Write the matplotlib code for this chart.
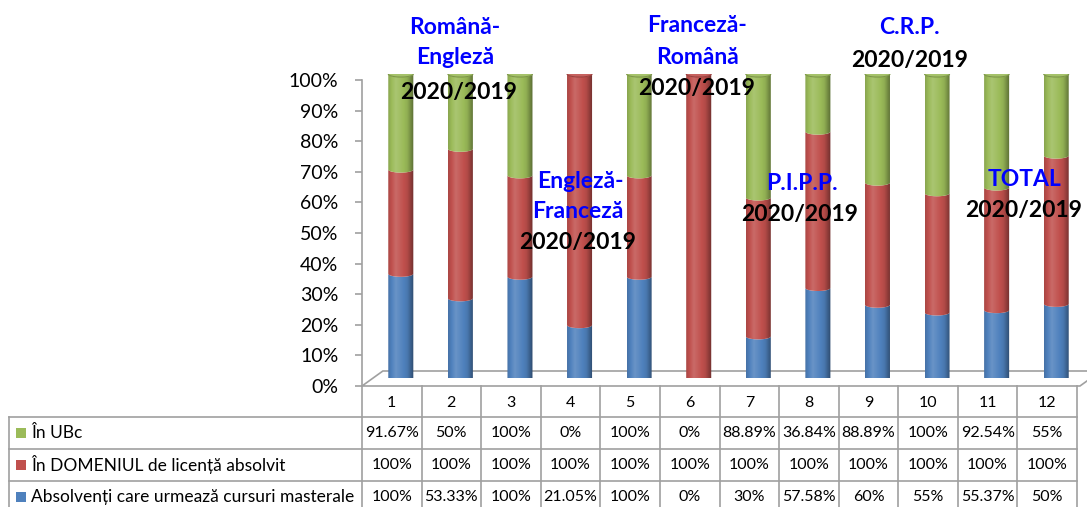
import numpy as np
import matplotlib
matplotlib.use("Agg")
import matplotlib.pyplot as plt
import matplotlib.colors as mcolors
from matplotlib.path import Path
from matplotlib.patches import PathPatch, Ellipse, Polygon, Rectangle

plt.rcParams['font.family'] = ['Lato', 'DejaVu Sans']

# date din tabel
coloane = ["1", "2", "3", "4", "5", "6", "7", "8", "9", "10", "11", "12"]
in_ubc = [91.67, 50, 100, 0, 100, 0, 88.89, 36.84, 88.89, 100, 92.54, 55]
in_domeniu = [100, 100, 100, 100, 100, 100, 100, 100, 100, 100, 100, 100]
absolventi_master = [100, 53.33, 100, 21.05, 100, 0, 30, 57.58, 60, 55, 55.37, 50]

serii = ["În UBc", "În DOMENIUL de licență absolvit",
         "Absolvenți care urmează cursuri masterale"]
culori = ["#9BBB59", "#C0504D", "#4F81BD"]

W, H = 1087, 507
fig = plt.figure(figsize=(W / 100, H / 100), dpi=100)


def fx(px):
    return px / W


def fy(py):
    return 1 - py / H


# axa principala (scara 0-100%)
ax = fig.add_axes([fx(362), fy(386), fx(1077) - fx(362), fy(80) - fy(386)])
ax.set_xlim(0, 12)
ax.set_ylim(0, 1)
ax.set_yticks(np.arange(0, 1.01, 0.1))
ax.set_yticklabels([f"{int(round(v * 100))}%" for v in np.arange(0, 1.01, 0.1)], fontsize=14)
ax.set_xticks([])
for s in ["top", "right", "bottom"]:
    ax.spines[s].set_visible(False)
ax.spines["left"].set_color("#A0A0A0")
ax.spines["left"].set_linewidth(1.2)
ax.tick_params(axis="y", length=5, width=1.2, color="#A0A0A0", pad=12)
ax.patch.set_alpha(0)

# podeaua 3D
podea = Polygon([(0, 0), (12.05, 0), (12.4, 15 / 306), (0.35, 15 / 306)],
                closed=True, facecolor="white", edgecolor="#A0A0A0", lw=1.2,
                clip_on=False, zorder=1)
ax.add_patch(podea)

# axa pentru cilindri (decalata pentru adancime)
bx = fig.add_axes([fx(371), fy(378), fx(1077) - fx(362), fy(74) - fy(378)])
bx.set_xlim(0, 12)
bx.set_ylim(0, 1)
bx.axis("off")
bx.patch.set_alpha(0)

tot = np.array(in_ubc) + np.array(in_domeniu) + np.array(absolventi_master)
fr_abs = np.array(absolventi_master) / tot
fr_dom = np.array(in_domeniu) / tot
fr_ubc = np.array(in_ubc) / tot

latime = 0.42
eh = 0.02


def nuanta(c, n=60):
    base = np.array(mcolors.to_rgb(c))
    t = np.linspace(0, 1, n)
    f = np.interp(t, [0, 0.3, 0.75, 1], [0.88, 1.15, 0.93, 0.58])
    out = []
    for k in f:
        if k > 1:
            out.append(base + (1 - base) * (k - 1))
        else:
            out.append(base * k)
    return np.array(out)[None, :, :]


def segment(x, jos, sus, c):
    th1 = np.linspace(np.pi, 2 * np.pi, 30)
    th2 = np.linspace(2 * np.pi, np.pi, 30)
    px = np.concatenate([x + latime / 2 * np.cos(th1), x + latime / 2 * np.cos(th2)])
    py = np.concatenate([jos + eh / 2 * np.sin(th1), sus + eh / 2 * np.sin(th2)])
    pts = np.column_stack([px, py])
    patch = PathPatch(Path(np.vstack([pts, pts[:1]]), closed=True),
                      facecolor="none", edgecolor="none")
    bx.add_patch(patch)
    im = bx.imshow(nuanta(c), extent=[x - latime / 2, x + latime / 2, jos - eh, sus + eh],
                   aspect="auto", zorder=3, interpolation="bilinear")
    im.set_clip_path(patch)


for i in range(len(coloane)):
    x = i + 0.5
    jos = 0.0
    ultima = None
    for fr, c in [(fr_abs[i], culori[2]), (fr_dom[i], culori[1]), (fr_ubc[i], culori[0])]:
        if fr <= 0:
            continue
        segment(x, jos, jos + fr, c)
        jos += fr
        ultima = c
    base = np.array(mcolors.to_rgb(ultima))
    capac = Ellipse((x, jos), latime, eh, facecolor=base + (1 - base) * 0.1,
                    edgecolor=base * 0.8, lw=0.8, zorder=4)
    bx.add_patch(capac)

bx.set_xlim(0, 12)
bx.set_ylim(0, 1)

# tabelul de date
tb = fig.add_axes([0, 0, 1, 1])
tb.set_xlim(0, W)
tb.set_ylim(H, 0)
tb.axis("off")
tb.patch.set_alpha(0)

gri = "#A0A0A0"
x0, x1 = 362, 1077
xs = np.linspace(x0, x1, len(coloane) + 1)
randuri = [386, 417, 449, 481, 513]
for xv in xs:
    tb.plot([xv, xv], [386, 513], color=gri, lw=1.2)
tb.plot([9, 9], [417, 513], color=gri, lw=1.2)
for k, yv in enumerate(randuri[1:]):
    tb.plot([9, x1], [yv, yv], color=gri, lw=1.2)

for j, et in enumerate(coloane):
    tb.text((xs[j] + xs[j + 1]) / 2, 403, et, ha="center", va="center", fontsize=11.5)

valori = [in_ubc, in_domeniu, absolventi_master]
for r in range(3):
    ym = (randuri[r + 1] + randuri[r + 2]) / 2
    tb.add_patch(Rectangle((16, ym - 5), 10, 10, facecolor=culori[r], edgecolor="none"))
    tb.text(31, ym, serii[r], ha="left", va="center", fontsize=12.5)
    for j, v in enumerate(valori[r]):
        tb.text((xs[j] + xs[j + 1]) / 2, ym, f"{v:g}%", ha="center", va="center", fontsize=11.5)

# etichete
albastru = "#0000FF"
etichete = [
    (455, 28, "Română-", albastru), (455, 58, "Engleză", albastru), (459, 92, "2020/2019", "black"),
    (580, 182, "Engleză-", albastru), (578, 212, "Franceză", albastru), (578, 243, "2020/2019", "black"),
    (697, 25, "Franceză-", albastru), (697, 57, "Română", albastru), (697, 89, "2020/2019", "black"),
    (802, 183, "P.I.P.P.", albastru), (800, 215, "2020/2019", "black"),
    (909, 28, "C.R.P.", albastru), (910, 60, "2020/2019", "black"),
    (1024, 180, "TOTAL", albastru), (1024, 211, "2020/2019", "black"),
]
for px, py, t, c in etichete:
    tb.text(px, py, t, ha="center", va="center", fontsize=16.5, fontweight="bold", color=c, zorder=10)

fig.savefig("out.png", dpi=100)
